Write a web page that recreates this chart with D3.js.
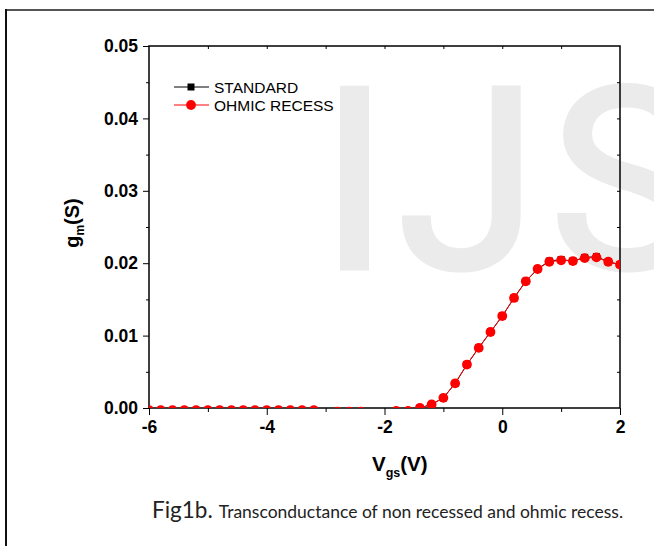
<!DOCTYPE html>
<html>
<head>
<meta charset="utf-8">
<script src="https://cdn.jsdelivr.net/npm/d3@7/dist/d3.min.js"></script>
<style>
  html, body { margin: 0; padding: 0; background: #fff; }
  svg { display: block; }
</style>
</head>
<body>
<script>
// Gate voltage sweep (V)
const vgs = [-6.0, -5.8, -5.6, -5.4, -5.2, -5.0, -4.8, -4.6, -4.4, -4.2, -4.0,
             -3.8, -3.6, -3.4, -3.2, -3.0, -2.8, -2.6, -2.4, -2.2, -2.0,
             -1.8, -1.6, -1.4, -1.2, -1.0, -0.8, -0.6, -0.4, -0.2, 0.0,
             0.2, 0.4, 0.6, 0.8, 1.0, 1.2, 1.4, 1.6, 1.8, 2.0];
// Transconductance gm (S), standard device
const gmStandard = [-0.0003, -0.0003, -0.0003, -0.0003, -0.0003, -0.0003, -0.0003, -0.0003, -0.0003, -0.0003, -0.0003,
                    -0.0003, -0.0003, -0.0003, -0.0003, -0.0007, -0.0005, -0.0005, -0.0005, -0.0008, -0.0008,
                    -0.0004, -0.0004, 0.0000, 0.0005, 0.0014, 0.0034, 0.0060, 0.0083, 0.0105, 0.0127,
                    0.0152, 0.0175, 0.0192, 0.0203, 0.0205, 0.0203, 0.0208, 0.0209, 0.0202, 0.0198];
// Transconductance gm (S), ohmic recess device
const gmOhmic = [-0.0003, -0.0003, -0.0003, -0.0003, -0.0003, -0.0003, -0.0003, -0.0003, -0.0003, -0.0003, -0.0003,
                 -0.0003, -0.0003, -0.0003, -0.0003, -0.0007, -0.0005, -0.0005, -0.0005, -0.0008, -0.0008,
                 -0.0004, -0.0004, 0.0000, 0.0005, 0.0014, 0.0034, 0.0060, 0.0083, 0.0105, 0.0127,
                 0.0152, 0.0175, 0.0192, 0.0202, 0.0204, 0.0203, 0.0207, 0.0208, 0.0202, 0.0198];

const seriesNames = ["STANDARD", "OHMIC RECESS"];
const xMajorTicks = [-6, -4, -2, 0, 2];
const xMinorTicks = [-5, -3, -1, 1];
const xTopTicks = [-5, -4, -3, -2, -1, 0, 1];
const yMajorTicks = [0.00, 0.01, 0.02, 0.03, 0.04, 0.05];
const yMinorTicks = [0.005, 0.015, 0.025, 0.035, 0.045];
const yRightTicks = [0.005, 0.01, 0.015, 0.02, 0.025, 0.03, 0.035, 0.04, 0.045];
const captionHead = "Fig1b.";
const captionBody = "Transconductance of non recessed and ohmic recess.";

const W = 654, H = 546;
const plot = { left: 149, right: 620, top: 46, bottom: 408 };

const svg = d3.select("body").append("svg")
  .attr("width", W).attr("height", H);

// page frame lines
svg.append("line").attr("x1", 6).attr("x2", W).attr("y1", 10).attr("y2", 10)
  .attr("stroke", "#555").attr("stroke-width", 2);
svg.append("line").attr("x1", 6).attr("x2", 6).attr("y1", 9).attr("y2", H)
  .attr("stroke", "#111").attr("stroke-width", 2);

// light background lettering
const wm = svg.append("g")
  .attr("fill", "#ebebeb").attr("stroke", "#ebebeb").attr("stroke-width", 5)
  .attr("font-family", "Roboto, 'Liberation Sans', sans-serif")
  .attr("font-size", 253);
wm.append("text").attr("x", 320).attr("y", 268).text("I");
wm.append("text").attr("x", 398).attr("y", 268).text("J");
wm.append("text").attr("x", 550).attr("y", 268).text("S");

const x = d3.scaleLinear().domain([-6, 2]).range([plot.left, plot.right]);
const y = d3.scaleLinear().domain([0, 0.05]).range([plot.bottom, plot.top]);

const axisFont = "'Liberation Sans', Arial, sans-serif";

function styleAxis(g) {
  g.select(".domain").remove();
  g.selectAll(".tick line").attr("stroke", "#000").attr("stroke-width", 1);
  g.selectAll(".tick text")
    .attr("font-family", axisFont).attr("font-weight", "bold")
    .attr("font-size", 17.5).attr("fill", "#000");
}

// bottom axis
svg.append("g").attr("transform", `translate(0,${plot.bottom})`)
  .call(d3.axisBottom(x).tickValues(xMajorTicks).tickSize(7).tickPadding(6)
    .tickFormat(d => d < 0 ? "-" + Math.abs(d) : String(d)))
  .call(styleAxis);
svg.append("g").attr("transform", `translate(0,${plot.bottom})`)
  .call(d3.axisBottom(x).tickValues(xMinorTicks).tickSize(4).tickFormat(""))
  .call(styleAxis);
// top axis (inward ticks)
svg.append("g").attr("transform", `translate(0,${plot.top})`)
  .call(d3.axisBottom(x).tickValues(xTopTicks).tickSize(3).tickFormat(""))
  .call(styleAxis);

// left axis
svg.append("g").attr("transform", `translate(${plot.left},0)`)
  .call(d3.axisLeft(y).tickValues(yMajorTicks).tickSize(6).tickPadding(5)
    .tickFormat(d3.format(".2f")))
  .call(styleAxis);
svg.append("g").attr("transform", `translate(${plot.left},0)`)
  .call(d3.axisLeft(y).tickValues(yMinorTicks).tickSize(3).tickFormat(""))
  .call(styleAxis);
// right axis (inward ticks)
svg.append("g").attr("transform", `translate(${plot.right},0)`)
  .call(d3.axisRight(y).tickValues(yRightTicks).tickSize(-3).tickFormat(""))
  .call(styleAxis);

// plot frame
svg.append("rect")
  .attr("x", plot.left).attr("y", plot.top)
  .attr("width", plot.right - plot.left).attr("height", plot.bottom - plot.top)
  .attr("fill", "none").attr("stroke", "#000").attr("stroke-width", 1.5);

// data, clipped to the frame
svg.append("clipPath").attr("id", "plotClip").append("rect")
  .attr("x", plot.left).attr("y", plot.top)
  .attr("width", plot.right - plot.left).attr("height", plot.bottom - plot.top);
const data = svg.append("g").attr("clip-path", "url(#plotClip)");

const line = d3.line().x(d => x(d[0])).y(d => y(d[1]));
const stdPts = vgs.map((v, i) => [v, gmStandard[i]]);
const ohmPts = vgs.map((v, i) => [v, gmOhmic[i]]);

data.append("path").datum(stdPts).attr("d", line)
  .attr("fill", "none").attr("stroke", "#000").attr("stroke-width", 1);
data.selectAll("rect.std").data(stdPts).join("rect").attr("class", "std")
  .attr("x", d => x(d[0]) - 3.5).attr("y", d => y(d[1]) - 3.5)
  .attr("width", 7).attr("height", 7).attr("fill", "#000");

data.append("path").datum(ohmPts).attr("d", line)
  .attr("fill", "none").attr("stroke", "#ff0000").attr("stroke-width", 1);
data.selectAll("circle.ohm").data(ohmPts).join("circle").attr("class", "ohm")
  .attr("cx", d => x(d[0])).attr("cy", d => y(d[1])).attr("r", 4.9)
  .attr("fill", "#ff0000");

// legend
const legend = svg.append("g");
const legY = [87, 105];
legend.append("line").attr("x1", 174).attr("x2", 209).attr("y1", legY[0]).attr("y2", legY[0])
  .attr("stroke", "#000").attr("stroke-width", 1);
legend.append("rect").attr("x", 187.5).attr("y", legY[0] - 3.5).attr("width", 7).attr("height", 7)
  .attr("fill", "#000");
legend.append("line").attr("x1", 174).attr("x2", 209).attr("y1", legY[1]).attr("y2", legY[1])
  .attr("stroke", "#ff0000").attr("stroke-width", 1);
legend.append("circle").attr("cx", 191).attr("cy", legY[1]).attr("r", 4.9).attr("fill", "#ff0000");
seriesNames.forEach((name, i) => {
  legend.append("text").attr("x", 214).attr("y", legY[i] + 5.5)
    .attr("font-family", axisFont).attr("font-size", 15.5).attr("fill", "#000")
    .text(name);
});

// axis titles
const yTitle = svg.append("text")
  .attr("transform", "translate(79,223) rotate(-90)")
  .attr("text-anchor", "middle")
  .attr("font-family", axisFont).attr("font-weight", "bold").attr("font-size", 20);
yTitle.append("tspan").text("g");
yTitle.append("tspan").attr("font-size", 12).attr("dy", 5).text("m");
yTitle.append("tspan").attr("dy", -5).text("(S)");

const xTitle = svg.append("text")
  .attr("x", 372).attr("y", 471)
  .attr("font-family", axisFont).attr("font-weight", "bold").attr("font-size", 20.5);
xTitle.append("tspan").text("V");
xTitle.append("tspan").attr("font-size", 12.5).attr("dy", 6).text("gs");
xTitle.append("tspan").attr("dy", -6).text("(V)");

// caption
const cap = svg.append("text").attr("x", 152).attr("y", 518)
  .attr("font-family", "Lato, 'Open Sans', sans-serif").attr("fill", "#222");
cap.append("tspan").attr("font-size", 22.5).text(captionHead);
cap.append("tspan").attr("font-size", 17.5).attr("dx", 6).text(captionBody);
</script>
</body>
</html>
